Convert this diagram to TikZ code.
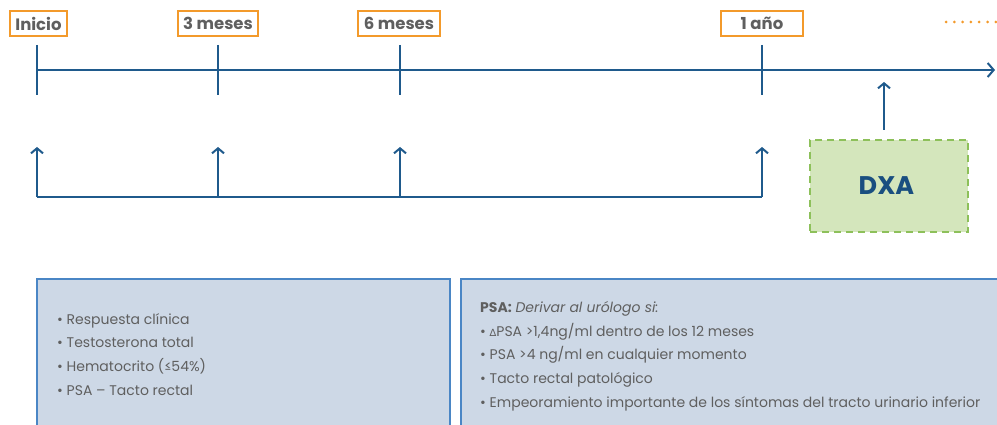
\documentclass[tikz,border=0pt]{standalone}
\usepackage{fontspec}
\setmainfont{Poppins}
\newfontfamily\symfont{DejaVu Sans}
\usetikzlibrary{arrows.meta}
\definecolor{tlblue}{HTML}{1F5A8C}
\definecolor{lborange}{HTML}{F39A2B}
\definecolor{txtgray}{HTML}{5F5F5F}
\definecolor{boxfill}{HTML}{CDD8E6}
\definecolor{boxline}{HTML}{4A86C5}
\definecolor{dxafill}{HTML}{D4E6BC}
\definecolor{dxaline}{HTML}{8DC05A}
\definecolor{dxatext}{HTML}{1A4F80}
\tikzset{
  tl/.style={draw=tlblue, line width=2pt},
  uparrow/.style={tl, -{Straight Barb[length=5pt,width=12pt,line width=2pt]}},
  timelabel/.style={draw=lborange, line width=2pt, text=txtgray, font=\fontsize{16.5}{18}\selectfont\bfseries, minimum height=25pt, inner sep=0pt},
  infotext/.style={text=txtgray, font=\fontsize{14}{23.8}\selectfont, align=left, inner sep=0pt, anchor=north west},
}
\begin{document}
\begin{tikzpicture}[x=1pt,y=-1pt]
\useasboundingbox (0,0) rectangle (997,425);
% labels
\node[timelabel, minimum width=57pt] (l0) at (38.5,23.5) {Inicio};
\node[timelabel, minimum width=80pt] (l3) at (218,23.5) {3 meses};
\node[timelabel, minimum width=82pt] (l6) at (399,23.5) {6 meses};
\node[timelabel, minimum width=82pt] (l12) at (762,23.5) {1 año};
\draw[lborange, line width=3pt, line cap=round, dash pattern=on 0pt off 8.3pt] (946,22) -- (997,22);
% timeline
\coordinate (tstart) at (37,70);
\coordinate (tend) at (995,70);
\draw[tl, -{Straight Barb[length=6pt,width=14pt,line width=2pt]}] (tstart) -- (tend);
\foreach \x/\n in {37/a,218/b,400/c,762/d}{
  \coordinate (tt\n) at (\x,45);
  \coordinate (tb\n) at (\x,95);
  \draw[tl] (tt\n) -- (tb\n);
  \coordinate (ba\n) at (\x,197);
  \coordinate (bt\n) at (\x,147);
  \draw[uparrow] (ba\n) -- (bt\n);
}
\draw[tl] (baa) -- (bad);
% DXA
\node[draw=dxaline, fill=dxafill, line width=2.5pt, dash pattern=on 7pt off 5pt, minimum width=158pt, minimum height=92pt, text=dxatext, font=\fontsize{25.5}{28}\selectfont\bfseries] (dxa) at (889,186) {\hspace*{-5pt}\raisebox{-3pt}{DXA}};
\coordinate (dxatop) at (884,130);
\coordinate (dxatip) at (884,82);
\draw[uparrow] (dxatop) -- (dxatip);
% info boxes
\fill[boxfill] (37,279) rectangle (450,425);
\draw[boxline, line width=2pt] (37,426) -- (37,279) -- (450,279) -- (450,426);
\fill[boxfill] (461,279) rectangle (997,425);
\draw[boxline, line width=2pt] (461,426) -- (461,279) -- (998,279);
\node[infotext] (left) at (57,313) {• Respuesta clínica\\• Testosterona total\\• Hematocrito (≤54\%)\\• PSA – Tacto rectal};
\node[infotext] (right) at (480,301) {\textbf{PSA:} \textit{Derivar al urólogo si:}\\• {\symfont\fontsize{10}{10}\selectfont ∆}PSA >1,4ng/ml dentro de los 12 meses\\• PSA >4 ng/ml en cualquier momento\\• Tacto rectal patológico\\• Empeoramiento importante de los síntomas del tracto urinario inferior};
\end{tikzpicture}
\end{document}
